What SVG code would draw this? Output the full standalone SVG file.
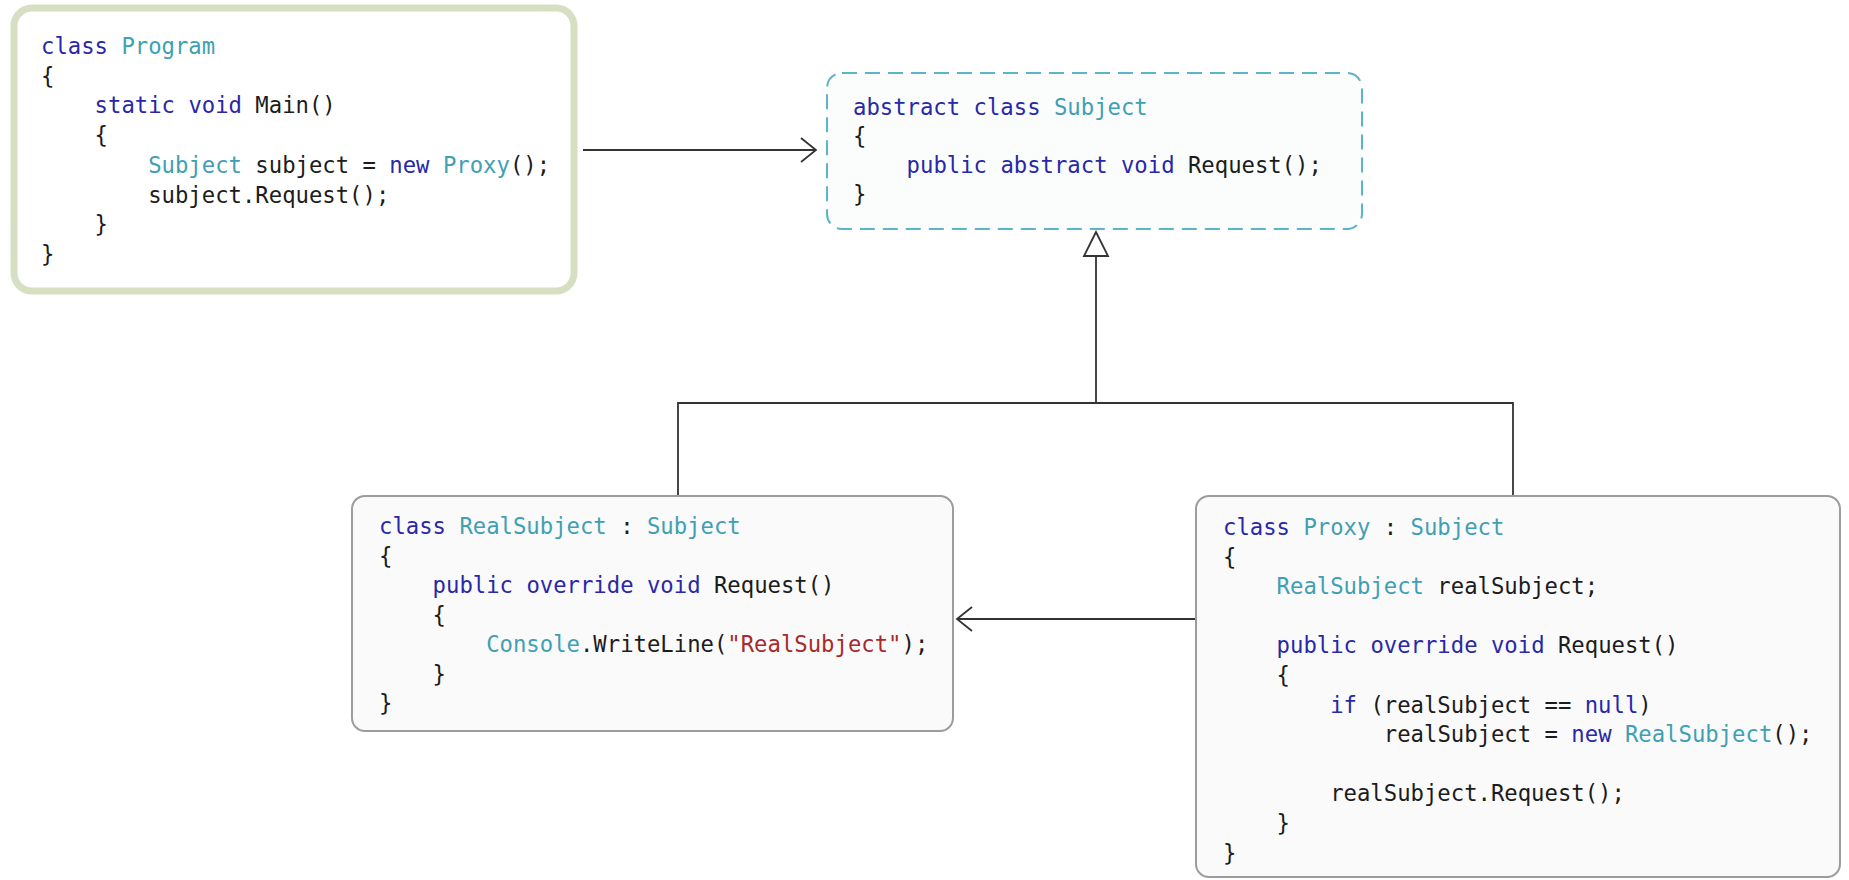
<svg xmlns="http://www.w3.org/2000/svg" width="1849" height="880" viewBox="0 0 1849 880">
<style>
text{font-family:"DejaVu Sans Mono","Liberation Mono",monospace;font-size:22.26px;fill:#1c1c1c}
.k{fill:#2828a8}
.t{fill:#40a0b3}
.s{fill:#a82a2a}
.conn{stroke:#333;stroke-width:1.8;fill:none}
.box{fill:#fafafa;stroke:#9c9c9c;stroke-width:2}
</style>
<defs>
<marker id="open" viewBox="0 0 20 28" markerWidth="20" markerHeight="28" refX="18" refY="14" orient="auto" markerUnits="userSpaceOnUse">
<path d="M3,2 L18,14 L3,26" fill="none" stroke="#333" stroke-width="1.8"/>
</marker>
</defs>
<rect width="1849" height="880" fill="#ffffff"/>
<g id="connectors">
<line class="conn" x1="583" y1="150" x2="816" y2="150" marker-end="url(#open)"/>
<line class="conn" x1="1195" y1="619" x2="957" y2="619" marker-end="url(#open)"/>
<polyline class="conn" points="678,496 678,403 1513,403 1513,496"/>
<line class="conn" x1="1096" y1="256" x2="1096" y2="403"/>
<polygon points="1096,232 1084,256 1108,256" fill="#fff" stroke="#333" stroke-width="1.8"/>
</g>
<g id="program">
<rect x="14" y="8" width="560" height="283" rx="18" fill="#fff" stroke="#d6dfc2" stroke-width="7"/>
<text x="41" y="54"><tspan class="k">class</tspan> <tspan class="t">Program</tspan></text>
<text x="41" y="83.7">{</text>
<text x="94.6" y="113.4"><tspan class="k">static</tspan> <tspan class="k">void</tspan> Main()</text>
<text x="94.6" y="143.1">{</text>
<text x="148.2" y="172.8"><tspan class="t">Subject</tspan> subject = <tspan class="k">new</tspan> <tspan class="t">Proxy</tspan>();</text>
<text x="148.2" y="202.5">subject.Request();</text>
<text x="94.6" y="232.2">}</text>
<text x="41" y="261.9">}</text>
</g>
<g id="subject">
<rect x="827" y="73" width="535" height="156" rx="15" fill="#fbfdfd" stroke="#5ab5c6" stroke-width="2" stroke-dasharray="15 8"/>
<text x="853" y="115"><tspan class="k">abstract</tspan> <tspan class="k">class</tspan> <tspan class="t">Subject</tspan></text>
<text x="853" y="144">{</text>
<text x="906.6" y="173"><tspan class="k">public</tspan> <tspan class="k">abstract</tspan> <tspan class="k">void</tspan> Request();</text>
<text x="853" y="202">}</text>
</g>
<g id="realsubject">
<rect class="box" x="352" y="496" width="601" height="235" rx="13"/>
<text x="379" y="534"><tspan class="k">class</tspan> <tspan class="t">RealSubject</tspan> : <tspan class="t">Subject</tspan></text>
<text x="379" y="563.5">{</text>
<text x="432.6" y="593"><tspan class="k">public</tspan> <tspan class="k">override</tspan> <tspan class="k">void</tspan> Request()</text>
<text x="432.6" y="622.5">{</text>
<text x="486.2" y="652"><tspan class="t">Console</tspan>.WriteLine(<tspan class="s">"RealSubject"</tspan>);</text>
<text x="432.6" y="681.5">}</text>
<text x="379" y="711">}</text>
</g>
<g id="proxy">
<rect class="box" x="1196" y="496" width="644" height="381" rx="13"/>
<text x="1223" y="535"><tspan class="k">class</tspan> <tspan class="t">Proxy</tspan> : <tspan class="t">Subject</tspan></text>
<text x="1223" y="564.6">{</text>
<text x="1276.6" y="594.2"><tspan class="t">RealSubject</tspan> realSubject;</text>
<text x="1276.6" y="653.4"><tspan class="k">public</tspan> <tspan class="k">override</tspan> <tspan class="k">void</tspan> Request()</text>
<text x="1276.6" y="683">{</text>
<text x="1330.2" y="712.6"><tspan class="k">if</tspan> (realSubject == <tspan class="k">null</tspan>)</text>
<text x="1383.8" y="742.2">realSubject = <tspan class="k">new</tspan> <tspan class="t">RealSubject</tspan>();</text>
<text x="1330.2" y="801.4">realSubject.Request();</text>
<text x="1276.6" y="831">}</text>
<text x="1223" y="860.6">}</text>
</g>
</svg>
